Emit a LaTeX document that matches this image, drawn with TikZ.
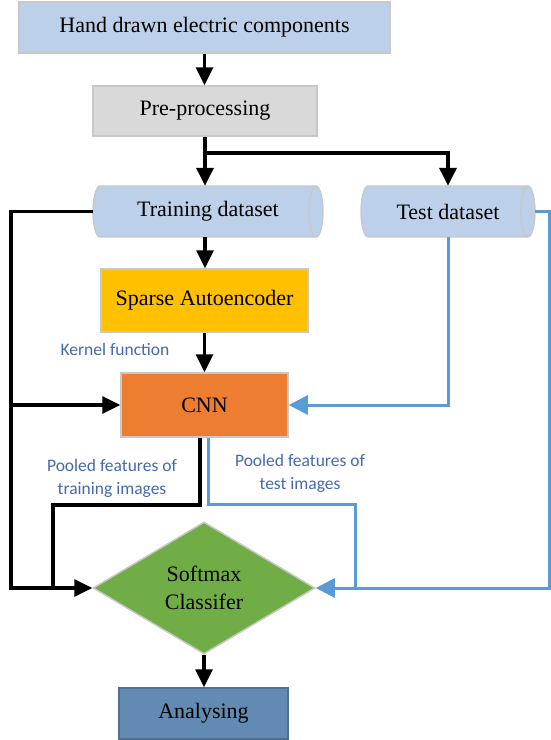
\documentclass[tikz,border=0pt]{standalone}
\usepackage{fontspec}
\setmainfont{Liberation Serif}
\newfontfamily\lblfont{Carlito}
\usetikzlibrary{arrows.meta,shapes.geometric}
\definecolor{lblue}{RGB}{189,208,233}
\definecolor{pregray}{RGB}{217,217,217}
\definecolor{sparsey}{RGB}{255,192,0}
\definecolor{cnnor}{RGB}{237,125,49}
\definecolor{dgreen}{RGB}{112,173,71}
\definecolor{anablue}{RGB}{98,138,178}
\definecolor{anaborder}{RGB}{80,112,145}
\definecolor{bordergray}{RGB}{200,200,200}
\definecolor{lineblue}{RGB}{91,155,213}
\definecolor{lbltext}{RGB}{68,105,175}
\begin{document}
\begin{tikzpicture}[x=1pt,y=-1pt,
  box/.style={draw=bordergray, line width=1.5pt, inner sep=0pt, font=\fontsize{22}{28}\selectfont, text=black, align=center},
  arr/.style={line width=3.4pt, -{Triangle[length=18pt,width=17pt]}},
  blk/.style={line width=3.4pt},
  bl/.style={line width=3pt, draw=lineblue},
  barr/.style={bl, -{Triangle[length=19pt,width=19pt]}, lineblue},
  lbl/.style={font=\lblfont\fontsize{17.5}{23}\selectfont, text=lbltext, align=center, inner sep=0pt},
  cyl/.style={fill=lblue, draw=bordergray, line width=1.3pt}]
\useasboundingbox (0,0) rectangle (550,740);

% boxes
\node[box, fill=lblue, minimum width=371pt, minimum height=51pt] (hand) at (204.5,27.5) {Hand drawn electric components};
\node[box, fill=pregray, minimum width=224pt, minimum height=50pt] (pre) at (205,111) {Pre-processing};

% cylinders
\path[cyl] (100,186) -- (316,186) arc[start angle=-90, end angle=90, x radius=7, y radius=25.5] -- (100,237) arc[start angle=90, end angle=270, x radius=7, y radius=25.5] -- cycle;
\draw[bordergray, line width=1.3pt] (316,186) arc[start angle=-90, end angle=-270, x radius=7, y radius=25.5];
\path[cyl] (368,186) -- (528,186) arc[start angle=-90, end angle=90, x radius=7, y radius=25.5] -- (368,237) arc[start angle=90, end angle=270, x radius=7, y radius=25.5] -- cycle;
\draw[bordergray, line width=1.3pt] (528,186) arc[start angle=-90, end angle=-270, x radius=7, y radius=25.5];
\node[font=\fontsize{22}{28}\selectfont, minimum width=230pt, minimum height=51pt, inner sep=0pt] (train) at (208,211.5) {Training dataset};
\node[font=\fontsize{22}{28}\selectfont, minimum width=174pt, minimum height=51pt, inner sep=0pt] (test) at (448,211.5) {Test dataset};

\node[box, fill=sparsey, minimum width=207pt, minimum height=63pt] (sparse) at (204.5,300.5) {Sparse Autoencoder};
\node[box, fill=cnnor, minimum width=167pt, minimum height=64pt] (cnn) at (204.5,405) {CNN};
\node[box, diamond, fill=dgreen, minimum width=222pt, minimum height=132pt] (soft) at (204,588) {Softmax\\Classifer};
\node[box, draw=anaborder, fill=anablue, minimum width=169pt, minimum height=51pt] (ana) at (203.5,713.5) {Analysing};

% labels
\node[lbl] (kern) at (115,349) {Kernel function};
\node[lbl] (ptrain) at (112,478) {Pooled features of\\training images};
\node[lbl] (ptest) at (300,473) {Pooled features of\\test images};

% helper coordinates
\coordinate (br) at (205,153);
\coordinate (c1) at (11,400);
\coordinate (c2) at (549,400);
\coordinate (c3) at (53,505);
\coordinate (c5) at (355,504);

% black connectors
\draw[arr] (hand.south) -- (hand.south |- pre.north);
\draw[arr] (pre.south) -- (pre.south |- train.north);
\draw[arr] (br) -| (test.north);
\draw[arr] (pre.south |- train.south) -- (pre.south |- sparse.north);
\draw[arr] (sparse.south) -- (cnn.north);
\draw[arr] (train.west) -| (c1) |- (soft.west);
\draw[arr] (c1 |- cnn.west) -- (cnn.west);
\draw[blk] ([xshift=-4.5pt]cnn.south) |- (c3) -- (c3 |- soft.west);
\draw[arr] (soft.south) -- (soft.south |- ana.north);

% blue connectors
\draw[barr] (test.south) |- (cnn.east);
\draw[barr] (test.east) -| (c2) |- (soft.east);
\draw[bl] ([xshift=3.5pt]cnn.south) |- (c5) -- (c5 |- soft.east);
\end{tikzpicture}
\end{document}
